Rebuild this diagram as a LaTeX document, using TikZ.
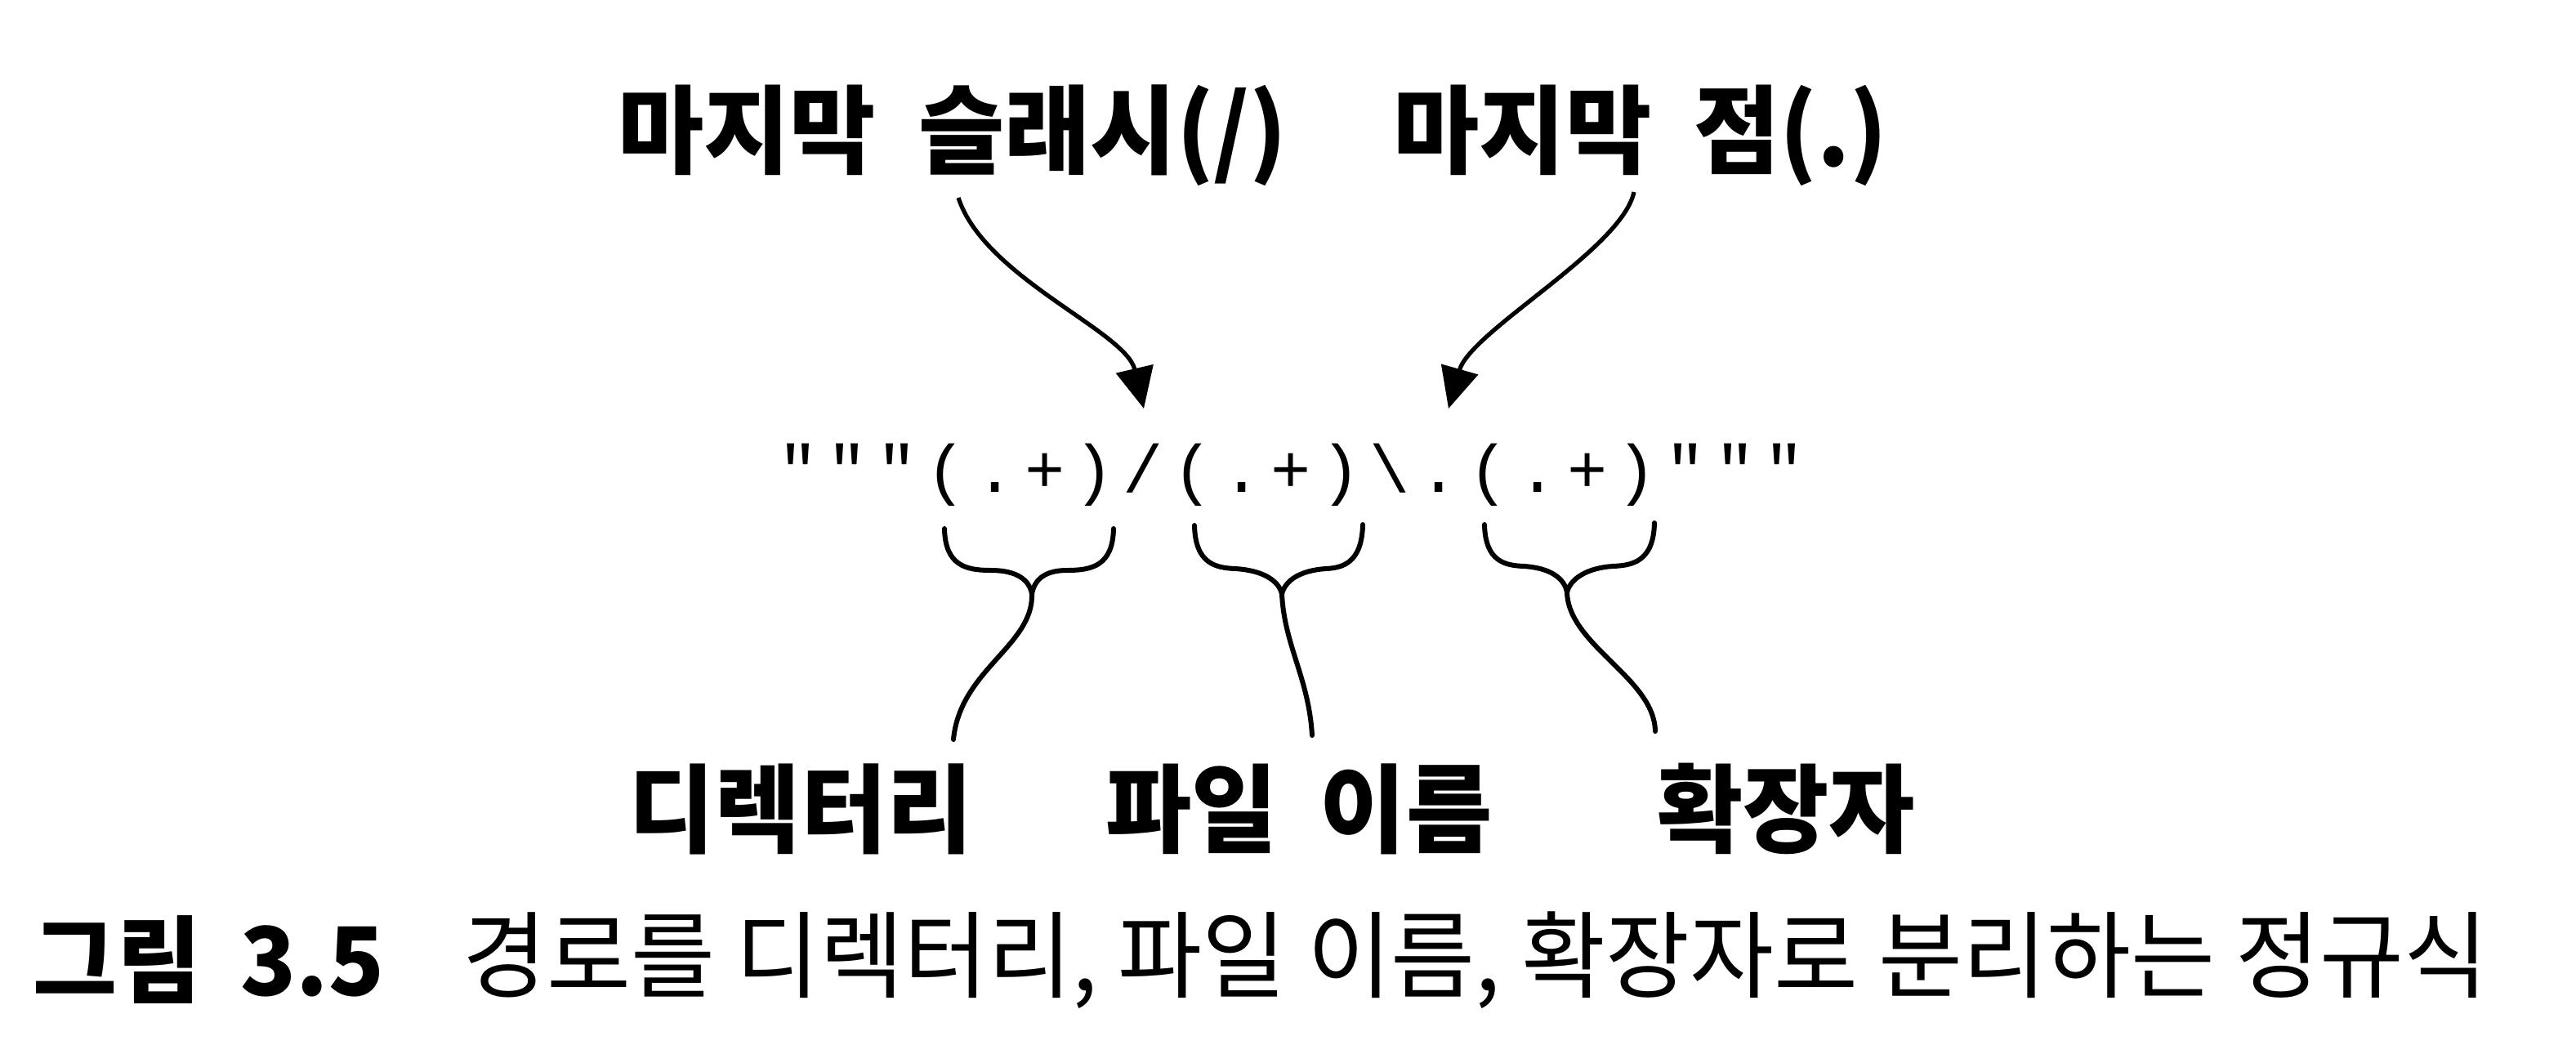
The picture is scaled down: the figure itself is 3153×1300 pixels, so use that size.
\documentclass[tikz,border=0pt]{standalone}
\usepackage{fontspec}
\newfontfamily\kr{Noto Sans CJK KR}[FakeStretch=0.97]
\newfontfamily\krc{Noto Sans CJK KR}[FakeStretch=0.965]
\newfontfamily\mono{Liberation Mono}
\usetikzlibrary{arrows.meta}
\begin{document}
\begin{tikzpicture}[x=0.25pt,y=-0.25pt,
  lbl/.style={font=\kr\bfseries\fontsize{29.5}{31}\selectfont, inner sep=0pt},
  capb/.style={font=\krc\bfseries\fontsize{29}{31}\selectfont, inner sep=0pt, anchor=west},
  capr/.style={font=\krc\fontsize{29}{31}\selectfont, inner sep=0pt, anchor=west},
  rx/.style={font=\mono\fontsize{20.5}{22}\selectfont, inner sep=0pt, anchor=base},
  pointer/.style={line width=1.3pt, -{Triangle[length=12.5pt,width=11.5pt]}},
  bracel/.style={line width=1.5pt, line cap=round}]
\useasboundingbox[fill=white] (0,0) rectangle (3153,1300);

% top labels
\node[lbl] (t1) at (1166,166) {마지막\hspace{13pt}슬래시(/)};
\node[lbl] (t2) at (2008,166) {마지막\hspace{13pt}점(.)};

% regex characters
\foreach \c [count=\i from 0] in {{"},{"},{"},{(},{.},{+},{)},{/},{(},{.},{+},{)},{\textbackslash},{.},{(},{.},{+},{)},{"},{"},{"}}
  \node[rx] (r\i) at ({977+60.35*\i},602) {\c};

% arrows
\coordinate (a1s) at (1173,242);
\coordinate (a1e) at (1400,500);
\coordinate (a2s) at (2000,235);
\coordinate (a2e) at (1773,500);
\draw[pointer] (a1s) .. controls (1205,340) and (1378,405) .. (a1e);
\draw[pointer] (a2s) .. controls (1985,305) and (1800,405) .. (a2e);

% braces
\coordinate (j1) at (1263,727);
\coordinate (e1) at (1167,905);
\draw[bracel] (1156,647) .. controls (1157,692) and (1182,698) .. (1213,698)
  .. controls (1245,698) and (1260,710) .. (j1);
\draw[bracel] (1363,647) .. controls (1362,692) and (1337,698) .. (1306,698)
  .. controls (1278,698) and (1266,710) .. (j1);
\draw[bracel] (j1) .. controls (1265,790) and (1175,820) .. (e1);

\coordinate (j2) at (1569,727);
\coordinate (e2) at (1606,900);
\draw[bracel] (1462,643) .. controls (1463,690) and (1488,695) .. (1512,696)
  .. controls (1545,698) and (1565,710) .. (j2);
\draw[bracel] (1668,642) .. controls (1667,690) and (1642,695) .. (1623,696)
  .. controls (1592,698) and (1573,710) .. (j2);
\draw[bracel] (j2) .. controls (1572,790) and (1602,830) .. (e2);

\coordinate (j3) at (1918,725);
\coordinate (e3) at (2026,895);
\draw[bracel] (1817,642) .. controls (1818,688) and (1843,692) .. (1865,693)
  .. controls (1898,695) and (1915,708) .. (j3);
\draw[bracel] (2025,640) .. controls (2024,688) and (1997,692) .. (1974,693)
  .. controls (1943,695) and (1922,708) .. (j3);
\draw[bracel] (j3) .. controls (1920,790) and (2025,830) .. (e3);

% bottom labels
\node[lbl] (b1) at (980,990) {디렉터리};
\node[lbl] (b2) at (1590,990) {파일\hspace{13pt}이름};
\node[lbl] (b3) at (2186,990) {확장자};

% caption
\node[capb] (c1) at (40,1175) {그림\hspace{12pt}3.5};
\node[capr] (c2) at (566,1175) {경로를 디렉터리, 파일 이름, 확장자로 분리하는 정규식};
\end{tikzpicture}
\end{document}
